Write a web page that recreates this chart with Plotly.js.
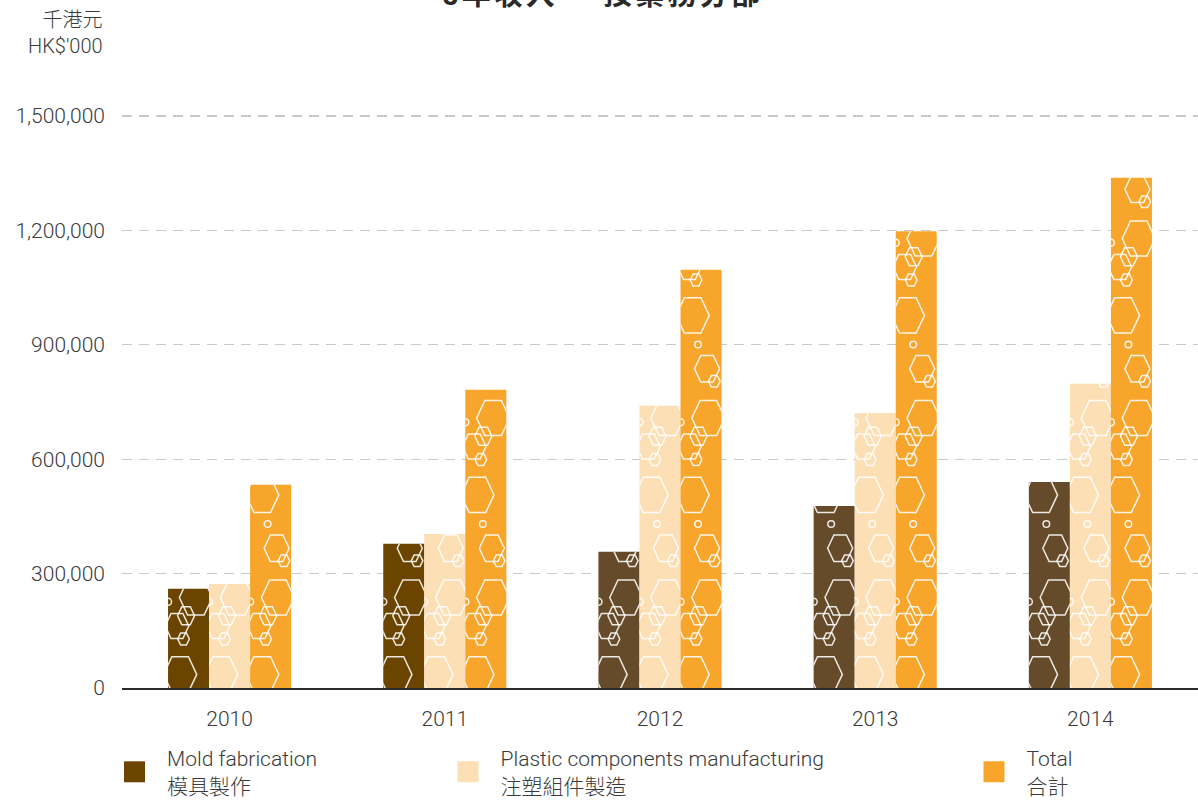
<!DOCTYPE html>
<html>
<head>
<meta charset="utf-8">
<script src="https://cdn.plot.ly/plotly-3.0.1.min.js"></script>
<style>
  html, body { margin: 0; padding: 0; background: #ffffff; }
  #chart { width: 1198px; height: 801px; }
</style>
</head>
<body>
<div id="chart"></div>
<script>
// ---------------- DATA ----------------
const years = ['2010', '2011', '2012', '2013', '2014'];
const moldFabrication = [260000, 378000, 357000, 477000, 540000];
const plasticComponents = [273000, 404000, 740000, 721000, 798000];
const totalRevenue = [533000, 782000, 1097000, 1198000, 1338000];
const seriesNames = [
  'Mold fabrication<br>模具製作',
  'Plastic components manufacturing<br>注塑組件製造',
  'Total<br>合計'
];
const yTickValues = [0, 300000, 600000, 900000, 1200000, 1500000];
const titleText = '5年收入 — 按業務分部';
const unitText = "千港元<br>HK$'000";

// ---------------- STYLE ----------------
const moldColors = ['#6b4500', '#6b4500', '#664b2a', '#664b2a', '#664b2a'];
const plasticColor = '#fcdfb5';
const totalColor = '#f8a62b';
const FONT = "Roboto, 'Noto Sans CJK TC', 'Liberation Sans', sans-serif";
const TEXT = '#3a3a3a';
const FS = 21;

const data = [
  { type: 'bar', x: years, y: moldFabrication, name: seriesNames[0],
    marker: { color: moldColors, line: { width: 0 } }, legend: 'legend', hoverinfo: 'y' },
  { type: 'bar', x: years, y: plasticComponents, name: seriesNames[1],
    marker: { color: plasticColor, line: { width: 0 } }, legend: 'legend2', hoverinfo: 'y' },
  { type: 'bar', x: years, y: totalRevenue, name: seriesNames[2],
    marker: { color: totalColor, line: { width: 0 } }, legend: 'legend3', hoverinfo: 'y' }
];

const plotTop = 60, plotBottom = 688, plotLeft = 122;
const plotH = plotBottom - plotTop;
const yMax = 1500000 * plotH / (plotBottom - 116);

function legendCfg(px) {
  return {
    x: (px - plotLeft) / 1076, xanchor: 'left',
    y: -(772 - plotBottom) / plotH, yanchor: 'middle',
    orientation: 'h', bgcolor: 'rgba(0,0,0,0)', borderwidth: 0,
    itemwidth: 55, itemclick: false, itemdoubleclick: false,
    font: { family: FONT, size: FS, color: TEXT, weight: 300 }
  };
}

const layout = {
  width: 1198, height: 801,
  margin: { l: plotLeft, r: 0, t: plotTop, b: 801 - plotBottom, pad: 0, autoexpand: false },
  paper_bgcolor: '#ffffff', plot_bgcolor: '#ffffff',
  font: { family: FONT, size: FS, color: TEXT, weight: 300 },
  barmode: 'group', bargap: 0.428, bargroupgap: 0,
  title: {
    text: titleText, x: 0.503, xanchor: 'center', xref: 'container',
    y: 1, yref: 'container', yanchor: 'middle',
    font: { family: FONT, size: 29, color: '#2a2a2a', weight: 700 }
  },
  xaxis: {
    type: 'category', showgrid: false, zeroline: false,
    showline: true, linecolor: '#2b2b2b', linewidth: 1.5,
    ticks: '', ticklabelstandoff: 11,
    tickfont: { family: FONT, size: FS, color: TEXT, weight: 300 },
    fixedrange: true
  },
  yaxis: {
    range: [0, yMax], tickvals: yTickValues, tickformat: ',d',
    showgrid: true, gridcolor: '#c9c9c9', gridwidth: 1.3, griddash: '10px,7px',
    zeroline: false, showline: false, ticks: '', ticklabelstandoff: 16,
    tickfont: { family: FONT, size: FS, color: TEXT, weight: 300 },
    fixedrange: true
  },
  legend: legendCfg(102),
  legend2: legendCfg(435.5),
  legend3: legendCfg(961.5),
  annotations: [{
    xref: 'paper', yref: 'paper',
    x: (105 - plotLeft) / 1076, xanchor: 'right',
    y: 1 + (plotTop - 6) / plotH, yanchor: 'top',
    text: unitText, showarrow: false, align: 'right',
    font: { family: FONT, size: FS - 1, color: TEXT, weight: 300 }
  }],
  showlegend: true
};

// ---------- hexagon decoration (pattern tile, relative to each bar's bottom-left) ----------
const TILE_PERIOD = 179.5;
const tileHexes = [ // [cx, cy(up from bottom), halfWidth, halfHeight]
  [12.1, 13.6, 16.6, 17.6],
  [27.8, 90.5, 16.5, 17.5],
  [8.9, 62.0, 11.8, 12.5],
  [18.0, 72.3, 8.5, 9.0],
  [15.5, 49.0, 5.8, 6.0],
  [26.5, 139.7, 12.5, 13.3],
  [33.8, 127.2, 5.8, 5.8]
];
const tileCircles = [[17.5, 164, 3.3], [0, 86.3, 3.5]];

function decorate(gd) {
  const NS = 'http://www.w3.org/2000/svg';
  const points = gd.querySelectorAll('.barlayer .point');
  points.forEach(function (pt, i) {
    const path = pt.querySelector('path');
    if (!path) return;
    const bb = path.getBBox();
    if (bb.width <= 0 || bb.height <= 0) return;
    const id = 'hexclip' + i;
    const cp = document.createElementNS(NS, 'clipPath');
    cp.setAttribute('id', id);
    const rc = document.createElementNS(NS, 'rect');
    rc.setAttribute('x', bb.x); rc.setAttribute('y', bb.y);
    rc.setAttribute('width', bb.width); rc.setAttribute('height', bb.height);
    cp.appendChild(rc);
    pt.appendChild(cp);
    const g = document.createElementNS(NS, 'g');
    g.setAttribute('clip-path', 'url(#' + id + ')');
    g.setAttribute('fill', 'none');
    g.setAttribute('stroke', 'rgba(255,255,255,0.88)');
    g.setAttribute('stroke-width', '1.5');
    const left = bb.x, bottom = bb.y + bb.height;
    for (let k = 0; bottom - k * TILE_PERIOD > bb.y - TILE_PERIOD; k++) {
      const base = bottom - k * TILE_PERIOD;
      tileHexes.forEach(function (h) {
        const cx = left + h[0], cy = base - h[1], R = h[2], H = h[3];
        const pts = [[cx - R, cy], [cx - R / 2, cy - H], [cx + R / 2, cy - H],
                     [cx + R, cy], [cx + R / 2, cy + H], [cx - R / 2, cy + H]];
        const poly = document.createElementNS(NS, 'polygon');
        poly.setAttribute('points', pts.map(p => p[0].toFixed(2) + ',' + p[1].toFixed(2)).join(' '));
        g.appendChild(poly);
      });
      tileCircles.forEach(function (c) {
        const ci = document.createElementNS(NS, 'circle');
        ci.setAttribute('cx', left + c[0]); ci.setAttribute('cy', base - c[1]);
        ci.setAttribute('r', c[2]);
        g.appendChild(ci);
      });
    }
    pt.appendChild(g);
  });
  // larger square legend symbols
  gd.querySelectorAll('.legendpoints path').forEach(function (p) {
    p.removeAttribute('transform');
    p.setAttribute('d', 'M43,10.5H22V-10.5H43Z');
  });
  const tg = gd.querySelector('.g-gtitle');
  if (tg) tg.setAttribute('transform', 'translate(0,-5)');
  const t = gd.querySelector('.gtitle');
  if (t) t.style.letterSpacing = '3px';
}

const gd = document.getElementById('chart');
Plotly.newPlot(gd, data, layout, { displayModeBar: false, staticPlot: true })
  .then(function () { decorate(gd); });
</script>
</body>
</html>
